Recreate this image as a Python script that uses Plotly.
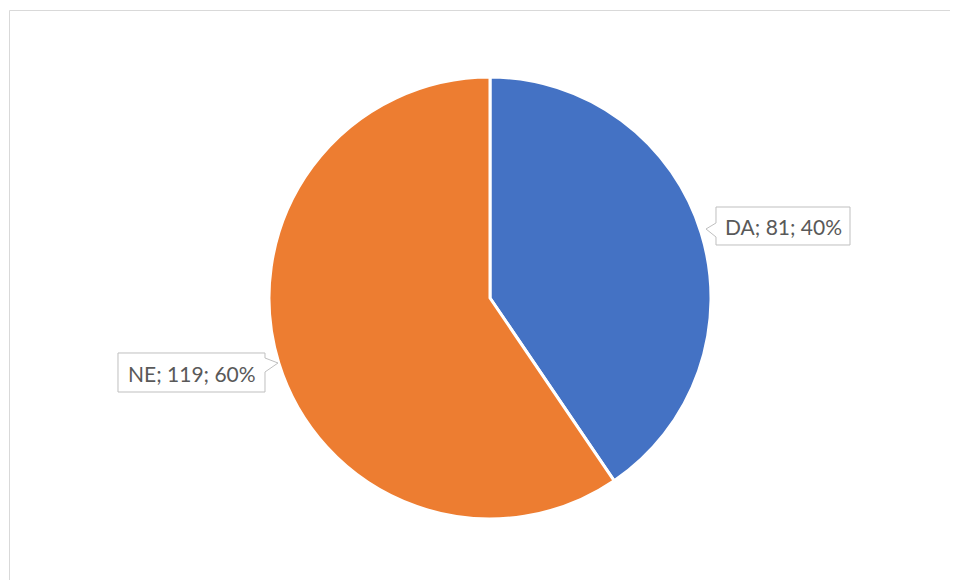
import plotly.graph_objects as go

labels = ["DA", "NE"]
values = [81, 119]
colors = ["#4472C4", "#ED7D31"]
label_texts = ["DA; 81; 40%", "NE; 119; 60%"]

OFF = 8  # page body margin
W, H = 958 - OFF, 580 - OFF
L, T, R, B = 269 - OFF, 77 - OFF, 711 - OFF, 519 - OFF  # pie domain in pixels
DW = R - L
DH = B - T

def px(x):
    return (x - OFF - L) / DW

def py(y):
    return (B - (y - OFF)) / DH

fig = go.Figure(go.Pie(
    labels=labels, values=values, sort=False, direction="clockwise", rotation=0,
    marker=dict(colors=colors, line=dict(color="white", width=3)),
    textinfo="none", hoverinfo="none", showlegend=False,
))

def path(points):
    return "M " + " L ".join(f"{px(x):.5f},{py(y):.5f}" for x, y in points) + " Z"

shapes = [
    dict(type="rect", xref="paper", yref="paper", x0=px(9.5), y0=py(10.5), x1=px(1000), y1=py(700),
         line=dict(color="#D9D9D9", width=1), fillcolor="rgba(0,0,0,0)", layer="below"),
    dict(type="path", xref="paper", yref="paper",
         path=path([(716, 207), (850, 207), (850, 245), (716, 245), (716, 237), (706, 229), (716, 223)]),
         line=dict(color="#BFBFBF", width=1), fillcolor="white", layer="above"),
    dict(type="path", xref="paper", yref="paper",
         path=path([(118, 353), (265, 353), (265, 358), (278, 363), (265, 372), (265, 392), (118, 392)]),
         line=dict(color="#BFBFBF", width=1), fillcolor="white", layer="above"),
]

annotations = [
    dict(x=px(783), y=py(226.5), xref="paper", yref="paper", text=label_texts[0], showarrow=False,
         font=dict(family="Lato", size=21, color="#595959"), xanchor="center", yanchor="middle"),
    dict(x=px(191.5), y=py(373), xref="paper", yref="paper", text=label_texts[1], showarrow=False,
         font=dict(family="Lato", size=21, color="#595959"), xanchor="center", yanchor="middle"),
]

fig.update_layout(
    width=W, height=H,
    margin=dict(l=L, r=W - R, t=T, b=H - B, autoexpand=False),
    paper_bgcolor="white", plot_bgcolor="white",
    shapes=shapes, annotations=annotations,
)

fig.write_html("out.html")
